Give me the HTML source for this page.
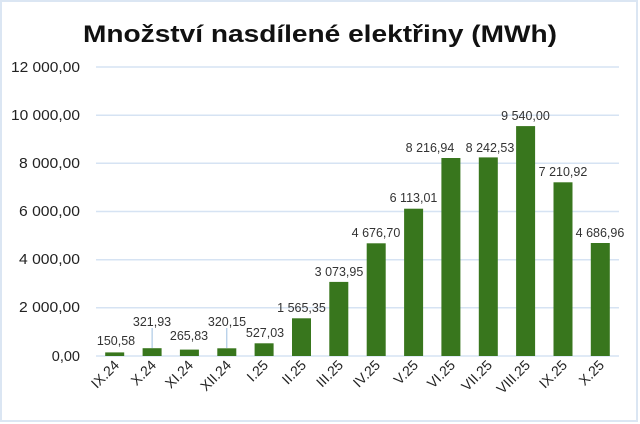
<!DOCTYPE html>
<html><head><meta charset="utf-8"><style>
html,body{margin:0;padding:0;background:#fff}
svg{display:block}
text{font-family:"Liberation Sans",sans-serif}
</style></head><body>
<svg width="640" height="424" viewBox="0 0 640 424">
<rect x="1" y="1" width="636" height="420" fill="#fff" stroke="#dbe6f3" stroke-width="2"/>
<text x="320" y="42" text-anchor="middle" font-size="24" font-weight="bold" fill="#111" textLength="474" lengthAdjust="spacingAndGlyphs">Množství nasdílené elektřiny (MWh)</text>
<g stroke="#d6e3f3" stroke-width="1.5">
<line x1="96" x2="619" y1="67" y2="67"/>
<line x1="96" x2="619" y1="115.2" y2="115.2"/>
<line x1="96" x2="619" y1="163.3" y2="163.3"/>
<line x1="96" x2="619" y1="211.5" y2="211.5"/>
<line x1="96" x2="619" y1="259.7" y2="259.7"/>
<line x1="96" x2="619" y1="307.8" y2="307.8"/>
<line x1="96" x2="619" y1="356" y2="356"/>
</g>
<g font-size="14.5" fill="#222" text-anchor="end">
<text x="80" y="72" textLength="69" lengthAdjust="spacingAndGlyphs">12 000,00</text>
<text x="80" y="120" textLength="69" lengthAdjust="spacingAndGlyphs">10 000,00</text>
<text x="80" y="168" textLength="61" lengthAdjust="spacingAndGlyphs">8 000,00</text>
<text x="80" y="216" textLength="61" lengthAdjust="spacingAndGlyphs">6 000,00</text>
<text x="80" y="264" textLength="61" lengthAdjust="spacingAndGlyphs">4 000,00</text>
<text x="80" y="312" textLength="61" lengthAdjust="spacingAndGlyphs">2 000,00</text>
<text x="80" y="361">0,00</text>
</g>
<g fill="#38761d">
<rect x="105.2" y="352.4" width="19" height="3.6"/>
<rect x="142.6" y="348.2" width="19" height="7.8"/>
<rect x="179.9" y="349.6" width="19" height="6.4"/>
<rect x="217.3" y="348.3" width="19" height="7.7"/>
<rect x="254.6" y="343.3" width="19" height="12.7"/>
<rect x="292" y="318.3" width="19" height="37.7"/>
<rect x="329.3" y="281.9" width="19" height="74.1"/>
<rect x="366.7" y="243.3" width="19" height="112.7"/>
<rect x="404.1" y="208.7" width="19" height="147.3"/>
<rect x="441.4" y="158" width="19" height="198"/>
<rect x="478.8" y="157.4" width="19" height="198.6"/>
<rect x="516.1" y="126.1" width="19" height="229.9"/>
<rect x="553.5" y="182.3" width="19" height="173.7"/>
<rect x="590.8" y="243" width="19" height="113"/>
</g>
<g stroke="#9dbfe0" stroke-width="1">
<line x1="152.1" y1="328" x2="152.1" y2="348"/>
<line x1="226.8" y1="328" x2="226.8" y2="348"/>
</g>
<g font-size="12.5" fill="#333" text-anchor="middle">
<text x="116" y="345">150,58</text>
<text x="152" y="326">321,93</text>
<text x="189" y="340">265,83</text>
<text x="227" y="326">320,15</text>
<text x="265" y="337">527,03</text>
<text x="301.5" y="312">1 565,35</text>
<text x="339" y="276">3 073,95</text>
<text x="376" y="237">4 676,70</text>
<text x="413.5" y="202">6 113,01</text>
<text x="430" y="152">8 216,94</text>
<text x="490" y="152">8 242,53</text>
<text x="525.5" y="120">9 540,00</text>
<text x="563" y="176">7 210,92</text>
<text x="600" y="237">4 686,96</text>
</g>
<g font-size="14" fill="#222" text-anchor="end">
<text transform="translate(120,366) rotate(-45)">IX.24</text>
<text transform="translate(157,366) rotate(-45)">X.24</text>
<text transform="translate(194,366) rotate(-45)">XI.24</text>
<text transform="translate(232,366) rotate(-45)">XII.24</text>
<text transform="translate(269,366) rotate(-45)">I.25</text>
<text transform="translate(307,366) rotate(-45)">II.25</text>
<text transform="translate(344,366) rotate(-45)">III.25</text>
<text transform="translate(381,366) rotate(-45)">IV.25</text>
<text transform="translate(419,366) rotate(-45)">V.25</text>
<text transform="translate(456,366) rotate(-45)">VI.25</text>
<text transform="translate(493,366) rotate(-45)">VII.25</text>
<text transform="translate(531,366) rotate(-45)">VIII.25</text>
<text transform="translate(568,366) rotate(-45)">IX.25</text>
<text transform="translate(605,366) rotate(-45)">X.25</text>
</g>
</svg>
</body></html>
